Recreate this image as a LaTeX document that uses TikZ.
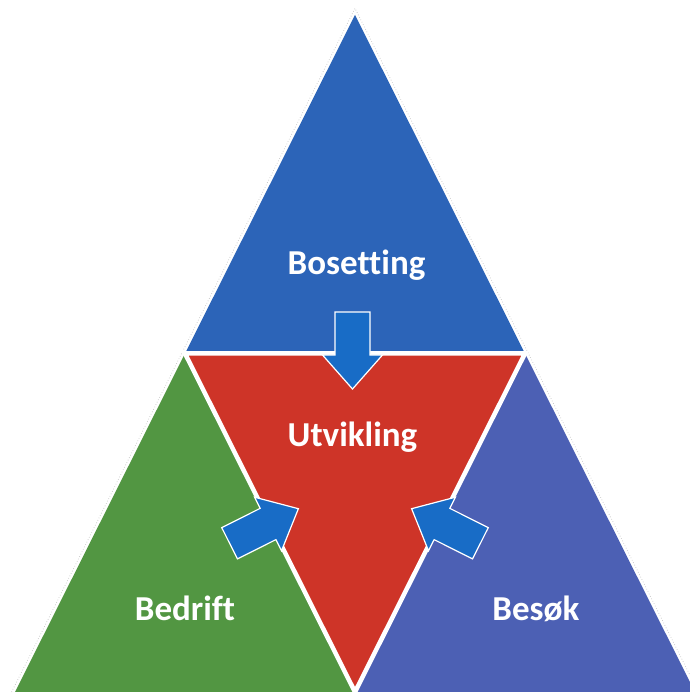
\documentclass[tikz,border=0pt]{standalone}
\usepackage{fontspec}
\setmainfont{Carlito}[Ligatures=NoCommon]
\definecolor{topblue}{RGB}{44,100,184}
\definecolor{midred}{RGB}{206,52,40}
\definecolor{leftgreen}{RGB}{82,150,66}
\definecolor{rightblue}{RGB}{76,96,180}
\definecolor{arrowblue}{RGB}{24,108,198}
\tikzset{
  arrowstyle/.style={fill=arrowblue, draw=white, line width=1.2pt, line join=miter},
  pics/inarrow/.style={code={
    \draw[arrowstyle] (-38.5,-17.5) -- (4.5,-17.5) -- (4.5,-30) -- (38.5,0)
      -- (4.5,30) -- (4.5,17.5) -- (-38.5,17.5) -- cycle;}},
  gap/.style={draw=white, line width=4.5pt, line cap=round},
  label/.style={text=white, font=\bfseries\fontsize{35}{42}\selectfont, anchor=base, inner sep=0pt}
}
\begin{document}
\begin{tikzpicture}[x=1pt,y=1pt]
\useasboundingbox[fill=white] (0,0) rectangle (690,697);
\clip (0,0) rectangle (690,697);
\coordinate (A) at (355,682);
\coordinate (BL) at (15,5);
\coordinate (BR) at (695,5);
\coordinate (L) at (185,343.5);
\coordinate (R) at (525,343.5);
\coordinate (B) at (355,5);
% faint outer outline
\draw[gray!45, dotted, line width=0.7pt] (11.6,5) -- (355,688.7) -- (698.4,5);
% triangles
\fill[topblue] (A) -- (L) -- (R) -- cycle;
\fill[leftgreen] (L) -- (BL) -- (B) -- cycle;
\fill[rightblue] (R) -- (B) -- (BR) -- cycle;
\fill[midred] (L) -- (R) -- (B) -- cycle;
% white gaps
\draw[gap] (L) -- (R) -- (B) -- cycle;
% arrows
\pic[rotate=-90] at (352.5,346.5) {inarrow};
\pic[rotate=26.7] at (264,171) {inarrow};
\pic[rotate=153.3] at (446,171) {inarrow};
% labels
\node[label] (bos) at (356.5,422) {Bosetting};
\node[label] (utv) at (352.5,250) {Utvikling};
\node[label] (bed) at (185,76) {Bedrift};
\node[label] (bes) at (536,76) {Besøk};
\end{tikzpicture}
\end{document}
